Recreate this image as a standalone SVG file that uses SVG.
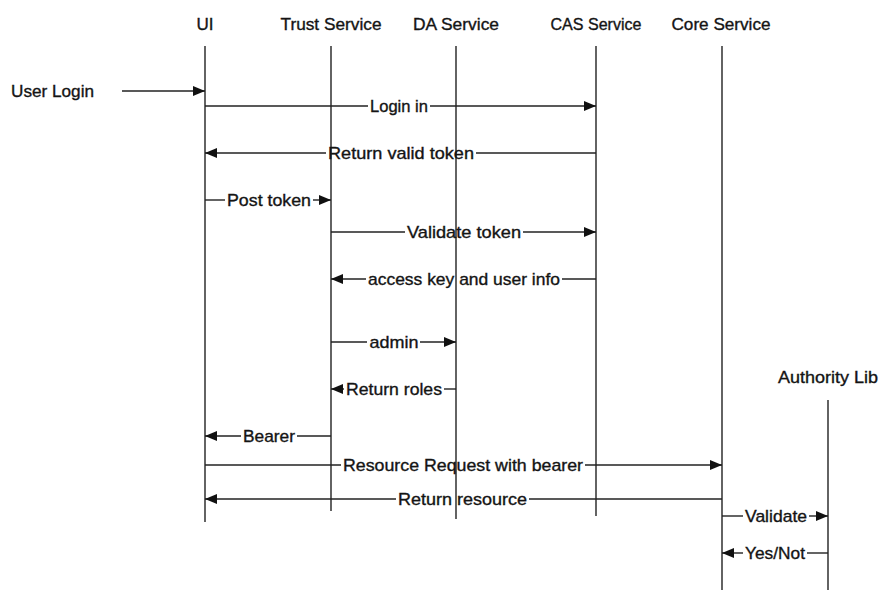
<svg xmlns="http://www.w3.org/2000/svg" width="883" height="590" viewBox="0 0 883 590">
<style>
text{font-family:"Liberation Sans",Arial,sans-serif;font-size:17px;fill:#141414;stroke:#141414;stroke-width:0.35;}
.hd{text-anchor:middle;}
.lbl{text-anchor:middle;}
.life{stroke:#222;stroke-width:1.4;fill:none;}
.msg{stroke:#222;stroke-width:1.4;fill:none;}
.arr{marker-end:url(#ah);}
</style>
<defs>
<marker id="ah" markerUnits="userSpaceOnUse" markerWidth="12" markerHeight="10" viewBox="0 0 12 10" refX="12" refY="5" orient="auto">
<path d="M0,0 L12,5 L0,10 Z" fill="#111"/>
</marker>
</defs>
<rect width="883" height="590" fill="#fff"/>

<g id="actor-user">
<text x="11" y="97" textLength="83" lengthAdjust="spacingAndGlyphs">User Login</text>
</g>
<g id="ui">
<text class="hd" x="205" y="30">UI</text>
<line class="life" x1="205" y1="46" x2="205" y2="522"/>
</g>
<g id="trust-service">
<text class="hd" x="331" y="30" textLength="101" lengthAdjust="spacingAndGlyphs">Trust Service</text>
<line class="life" x1="331" y1="46" x2="331" y2="511"/>
</g>
<g id="da-service">
<text class="hd" x="456" y="30" textLength="86" lengthAdjust="spacingAndGlyphs">DA Service</text>
<line class="life" x1="456" y1="46" x2="456" y2="519"/>
</g>
<g id="cas-service">
<text class="hd" x="596" y="30" textLength="91" lengthAdjust="spacingAndGlyphs">CAS Service</text>
<line class="life" x1="596" y1="46" x2="596" y2="516"/>
</g>
<g id="core-service">
<text class="hd" x="721" y="30" textLength="99" lengthAdjust="spacingAndGlyphs">Core Service</text>
<line class="life" x1="722" y1="46" x2="722" y2="590"/>
</g>
<g id="authority-lib">
<text class="hd" x="828" y="383" textLength="100" lengthAdjust="spacingAndGlyphs">Authority Lib</text>
<line class="life" x1="828" y1="400" x2="828" y2="590"/>
</g>

<g id="connectors">
<!-- User Login -->
<path class="msg arr" d="M122,91 H205"/>
<!-- Login in -->
<path class="msg" d="M205,106 H368"/>
<path class="msg arr" d="M430,106 H596"/>
<text class="lbl" x="399" y="112" textLength="58" lengthAdjust="spacingAndGlyphs">Login in</text>
<!-- Return valid token -->
<path class="msg" d="M596,153 H476"/>
<path class="msg arr" d="M326,153 H205"/>
<text class="lbl" x="401" y="159" textLength="146" lengthAdjust="spacingAndGlyphs">Return valid token</text>
<!-- Post token -->
<path class="msg" d="M205,200 H225"/>
<path class="msg arr" d="M313,200 H331"/>
<text class="lbl" x="269" y="206" textLength="84" lengthAdjust="spacingAndGlyphs">Post token</text>
<!-- Validate token -->
<path class="msg" d="M331,232 H405"/>
<path class="msg arr" d="M523,232 H596"/>
<text class="lbl" x="464" y="238" textLength="114" lengthAdjust="spacingAndGlyphs">Validate token</text>
<!-- access key and user info -->
<path class="msg" d="M596,279 H562"/>
<path class="msg arr" d="M366,279 H331"/>
<text class="lbl" x="464" y="285" textLength="192" lengthAdjust="spacingAndGlyphs">access key and user info</text>
<!-- admin -->
<path class="msg" d="M331,342 H367"/>
<path class="msg arr" d="M420,342 H456"/>
<text class="lbl" x="394" y="348" textLength="49" lengthAdjust="spacingAndGlyphs">admin</text>
<!-- Return roles -->
<path class="msg" d="M456,389 H444"/>
<path class="msg arr" d="M344,389 H331"/>
<text class="lbl" x="394" y="395" textLength="96" lengthAdjust="spacingAndGlyphs">Return roles</text>
<!-- Bearer -->
<path class="msg" d="M331,436 H297"/>
<path class="msg arr" d="M241,436 H205"/>
<text class="lbl" x="269" y="442" textLength="52" lengthAdjust="spacingAndGlyphs">Bearer</text>
<!-- Resource Request with bearer -->
<path class="msg" d="M205,465 H341"/>
<path class="msg arr" d="M585,465 H722"/>
<text class="lbl" x="463" y="471" textLength="240" lengthAdjust="spacingAndGlyphs">Resource Request with bearer</text>
<!-- Return resource -->
<path class="msg" d="M722,499 H529"/>
<path class="msg arr" d="M396,499 H205"/>
<text class="lbl" x="462.5" y="505" textLength="129" lengthAdjust="spacingAndGlyphs">Return resource</text>
<!-- Validate -->
<path class="msg" d="M722,516 H743"/>
<path class="msg arr" d="M809,516 H828"/>
<text class="lbl" x="776" y="522" textLength="62" lengthAdjust="spacingAndGlyphs">Validate</text>
<!-- Yes/Not -->
<path class="msg" d="M828,553 H807"/>
<path class="msg arr" d="M743,553 H722"/>
<text class="lbl" x="775" y="559" textLength="60" lengthAdjust="spacingAndGlyphs">Yes/Not</text>
</g>
</svg>
